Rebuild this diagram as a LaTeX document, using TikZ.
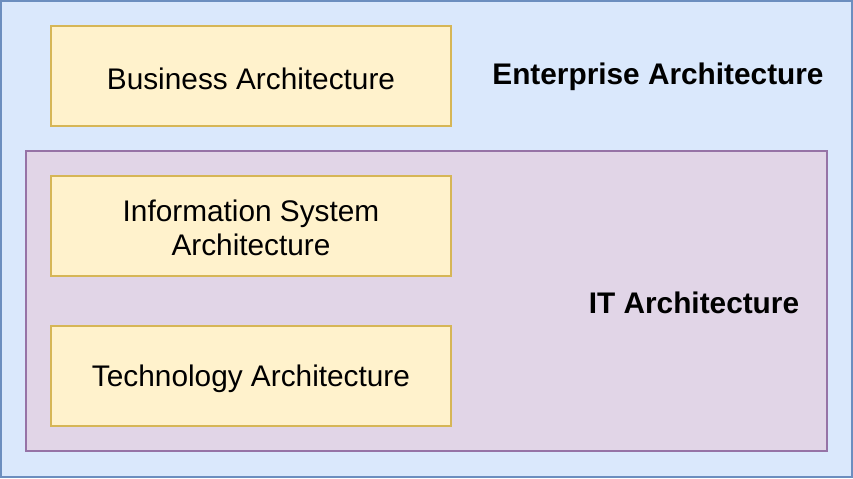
\documentclass[tikz,border=0pt]{standalone}
\usepackage{fontspec}
\setmainfont{Liberation Sans}
\definecolor{bluefill}{HTML}{DAE8FC}
\definecolor{bluedraw}{HTML}{6C8EBF}
\definecolor{purpfill}{HTML}{E1D5E7}
\definecolor{purpdraw}{HTML}{9673A6}
\definecolor{yelfill}{HTML}{FFF2CC}
\definecolor{yeldraw}{HTML}{D6B656}
\begin{document}
\begin{tikzpicture}[x=0.5pt,y=-0.5pt,
  archbox/.style={draw=yeldraw,fill=yelfill,line width=1pt,minimum width=200pt,minimum height=50pt,inner sep=0pt,align=center,font=\fontsize{14.9pt}{17.2pt}\selectfont},
  biglabel/.style={font=\fontsize{14.9pt}{17pt}\selectfont\bfseries}]
\useasboundingbox (0,0) rectangle (853,478);
\draw[draw=bluedraw,fill=bluefill,line width=1pt] (1,1) rectangle (852,477);
\draw[draw=purpdraw,fill=purpfill,line width=1pt] (26,151) rectangle (827,451);
\node[archbox,text depth=0pt,text height=0pt] (ba) at (251,76) {};
\node[archbox] (is) at (251,226) {};
\node[archbox] (ta) at (251,376) {};
\node[font=\fontsize{14.9pt}{17.2pt}\selectfont] (bat) at (251,79) {Business Architecture};
\node[font=\fontsize{14.9pt}{17.2pt}\selectfont,align=center] (ist) at (251,228) {Information System\\Architecture};
\node[font=\fontsize{14.9pt}{17.2pt}\selectfont] (tat) at (251,379) {Technology Architecture};
\node[biglabel] (ea) at (658,77) {Enterprise Architecture};
\node[biglabel] (it) at (694,303) {IT Architecture};
\end{tikzpicture}
\end{document}
